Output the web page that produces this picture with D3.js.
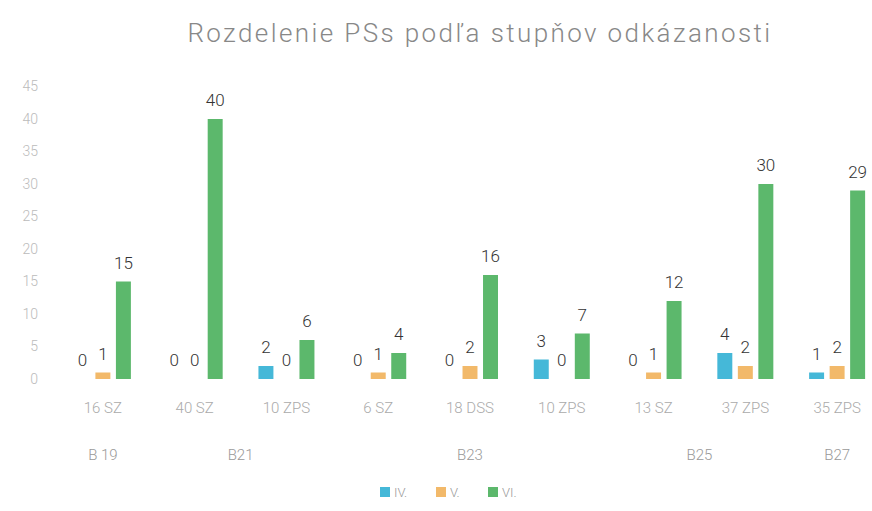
<!DOCTYPE html>
<html>
<head>
<meta charset="utf-8">
<script src="https://cdn.jsdelivr.net/npm/d3@7"></script>
<style>
  body { margin: 0; background: #fff; }
  svg { display: block; font-family: Roboto, "Noto Sans", sans-serif; }
</style>
</head>
<body>
<svg width="872" height="511"></svg>
<script>
// chart data
var categories = ['16 SZ', '40 SZ', '10 ZPS', '6 SZ', '18 DSS', '10 ZPS', '13 SZ', '37 ZPS', '35 ZPS'];
var seriesNames = ['IV.', 'V.', 'VI.'];
var seriesIV = [0, 0, 2, 0, 0, 3, 0, 4, 1];
var seriesV = [1, 0, 0, 1, 2, 0, 1, 2, 2];
var seriesVI = [15, 40, 6, 4, 16, 7, 12, 30, 29];
var groupNames = ['B 19', 'B21', 'B23', 'B25', 'B27'];
var groupSpans = [1, 2, 3, 2, 1];
var yTickValues = [0, 5, 10, 15, 20, 25, 30, 35, 40, 45];

var colors = ['#45b8d8', '#f2b96a', '#5cb86c'];
var series = [seriesIV, seriesV, seriesVI];

var svg = d3.select('svg');

// scales
var x = d3.scaleBand()
  .domain(d3.range(categories.length))
  .range([57, 883]);

var half = 28;
var xInner = d3.scaleBand()
  .domain(seriesNames)
  .range([x.bandwidth() / 2 - half, x.bandwidth() / 2 + half])
  .paddingInner(0.27);

var y = d3.scaleLinear()
  .domain([0, 45])
  .range([379, 86.5]);

// title
svg.append('text')
  .attr('x', 480)
  .attr('y', 42)
  .attr('text-anchor', 'middle')
  .attr('font-size', 26)
  .attr('font-weight', 300)
  .attr('letter-spacing', 2.4)
  .attr('fill', '#888')
  .text('Rozdelenie PSs podľa stupňov odkázanosti');

// y axis labels (no line, no ticks)
svg.append('g')
  .selectAll('text')
  .data(yTickValues)
  .join('text')
  .attr('x', 38)
  .attr('y', function(d) { return y(d); })
  .attr('dy', '0.35em')
  .attr('text-anchor', 'end')
  .attr('font-size', 14)
  .attr('font-weight', 300)
  .attr('fill', '#bbb')
  .text(function(d) { return d; });

// bars
var groups = svg.append('g')
  .selectAll('g')
  .data(categories)
  .join('g')
  .attr('transform', function(d, i) { return 'translate(' + x(i) + ',0)'; });

groups.each(function(c, i) {
  var g = d3.select(this);
  seriesNames.forEach(function(s, k) {
    var v = series[k][i];
    if (v > 0) {
      g.append('rect')
        .attr('x', xInner(s))
        .attr('y', y(v))
        .attr('width', xInner.bandwidth())
        .attr('height', y(0) - y(v))
        .attr('fill', colors[k]);
    }
    g.append('text')
      .attr('x', xInner(s) + xInner.bandwidth() / 2)
      .attr('y', y(v) - 13)
      .attr('text-anchor', 'middle')
      .attr('font-size', 17)
      .attr('font-weight', 300)
      .attr('fill', '#333')
      .text(v);
  });
});

// category labels
svg.append('g')
  .selectAll('text')
  .data(categories)
  .join('text')
  .attr('x', function(d, i) { return x(i) + x.bandwidth() / 2; })
  .attr('y', 413)
  .attr('text-anchor', 'middle')
  .attr('font-size', 15)
  .attr('font-weight', 300)
  .attr('fill', '#aaa')
  .text(function(d) { return d; });

// group labels
var start = 0;
var groupPos = groupSpans.map(function(n) {
  var cx = (x(start) + x(start + n - 1) + x.bandwidth()) / 2;
  start += n;
  return cx;
});

svg.append('g')
  .selectAll('text')
  .data(groupNames)
  .join('text')
  .attr('x', function(d, i) { return groupPos[i]; })
  .attr('y', 460)
  .attr('text-anchor', 'middle')
  .attr('font-size', 15)
  .attr('font-weight', 300)
  .attr('fill', '#999')
  .text(function(d) { return d; });

// legend
var legendX = [380, 436, 488];
var legend = svg.append('g')
  .selectAll('g')
  .data(seriesNames)
  .join('g')
  .attr('transform', function(d, i) { return 'translate(' + legendX[i] + ',492)'; });

legend.append('rect')
  .attr('x', 0)
  .attr('y', -5)
  .attr('width', 10)
  .attr('height', 10)
  .attr('fill', function(d, i) { return colors[i]; });

legend.append('text')
  .attr('x', 14)
  .attr('y', 0)
  .attr('dy', '0.35em')
  .attr('font-size', 13)
  .attr('font-weight', 300)
  .attr('fill', '#999')
  .text(function(d) { return d; });
</script>
</body>
</html>
